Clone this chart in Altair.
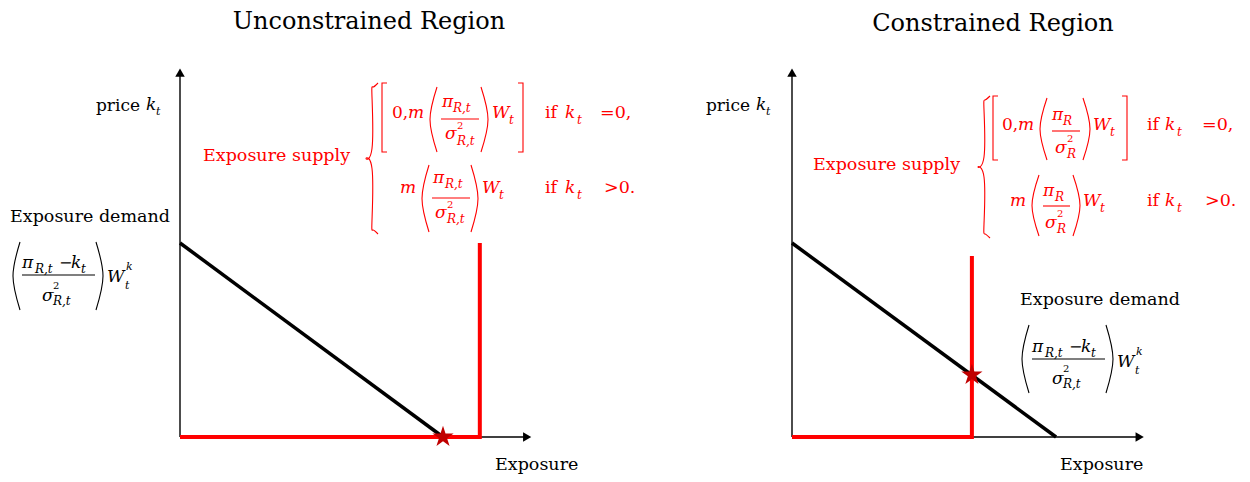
import altair as alt
import pandas as pd

# ---------------- values (economic units) ----------------
panels = ["L", "R"]
titles = ["Unconstrained Region", "Constrained Region"]
demand_x = [[0.0, 10.0], [0.0, 10.04]]        # demand line end points (quantity)
demand_y = [[10.0, 0.0], [10.0, 0.0]]         # demand line end points (price)
supply_x = [[0.0, 11.4, 11.4], [0.0, 6.84, 6.84]]
supply_y = [[0.0, 0.0, 10.0], [0.0, 0.0, 9.33]]
star_x = [10.0, 6.84]
star_y = [0.0, 3.2]
x_axis_end = [13.4, 13.42]
y_axis_end = [19.05, 19.05]

# ---------------- layout (page pixels -> units) ----------------
PXX, PXY = 26.3, 19.4
ORIGIN_PX = {"L": 180, "R": 792}
ORIGIN_PY = 437
PANEL_LEFT = {"L": 8, "R": 648}
PANEL_W = {"L": 640, "R": 594}
PANEL_H = 464
TOP = 8
FONT = "DejaVu Serif"


def ux(p, px):
    return (px - ORIGIN_PX[p]) / PXX


def uy(py):
    return (ORIGIN_PY - py) / PXY


K, RED, STAR = "#000000", "#ff0000", "#c00000"

# ---------------- text pieces ----------------
texts = []


def add(p, px, py, text, size=17.5, style="normal", color=K, align="left"):
    texts.append(dict(panel=p, x=ux(p, px), y=uy(py), text=text, size=size,
                      style=style, color=color, align=align))


MS, SS = 17, 12   # math symbol size, subscript size

# ---- left panel ----
add("L", 369, 22, titles[0], 24, align="center")
add("L", 140, 106, "price", 17, align="right")
add("L", 146, 105, "k", MS, "italic")
add("L", 156, 112, "t", 11, "italic")
add("L", 10, 217, "Exposure demand", 17.5)
add("L", 22, 263, "π", MS, "italic")
add("L", 35, 269, "R,t", SS, "italic")
add("L", 59, 263, "−", 16)
add("L", 71, 263, "k", MS, "italic")
add("L", 81, 269, "t", SS, "italic")
add("L", 42, 296, "σ", MS, "italic")
add("L", 53, 286, "2", 10)
add("L", 53, 301, "R,t", SS, "italic")
add("L", 107, 277, "W", MS, "italic")
add("L", 126, 267, "k", 11, "italic")
add("L", 125, 286, "t", 11, "italic")
add("L", 495, 465, "Exposure", 17.5)
add("L", 203, 156, "Exposure supply", 17.5, color=RED)
# row 1
add("L", 392, 113, "0,", 17, color=RED)
add("L", 408, 113, "m", MS, "italic", RED)
add("L", 442, 102, "π", MS, "italic", RED)
add("L", 453, 108, "R,t", SS, "italic", RED)
add("L", 445, 134, "σ", MS, "italic", RED)
add("L", 457, 126, "2", 10, color=RED)
add("L", 457, 141, "R,t", SS, "italic", RED)
add("L", 492, 113, "W", MS, "italic", RED)
add("L", 509, 120, "t", SS, "italic", RED)
add("L", 545, 113, "if", 17.5, color=RED)
add("L", 565, 113, "k", MS, "italic", RED)
add("L", 577, 120, "t", SS, "italic", RED)
add("L", 600, 113, "=0,", 17.5, color=RED)
# row 2
add("L", 400, 188, "m", MS, "italic", RED)
add("L", 433, 178, "π", MS, "italic", RED)
add("L", 445, 184, "R,t", SS, "italic", RED)
add("L", 435, 213, "σ", MS, "italic", RED)
add("L", 447, 205, "2", 10, color=RED)
add("L", 447, 219, "R,t", SS, "italic", RED)
add("L", 482, 188, "W", MS, "italic", RED)
add("L", 499, 195, "t", SS, "italic", RED)
add("L", 545, 188, "if", 17.5, color=RED)
add("L", 565, 188, "k", MS, "italic", RED)
add("L", 577, 195, "t", SS, "italic", RED)
add("L", 604, 188, ">0.", 17.5, color=RED)

# ---- right panel ----
add("R", 993, 24, titles[1], 24, align="center")
add("R", 750, 106, "price", 17, align="right")
add("R", 756, 105, "k", MS, "italic")
add("R", 766, 112, "t", 11, "italic")
add("R", 813, 165, "Exposure supply", 17.5, color=RED)
# row 1
add("R", 1002, 125, "0,", 17, color=RED)
add("R", 1018, 125, "m", MS, "italic", RED)
add("R", 1052, 115, "π", MS, "italic", RED)
add("R", 1063, 121, "R", SS, "italic", RED)
add("R", 1055, 148, "σ", MS, "italic", RED)
add("R", 1067, 139, "2", 10, color=RED)
add("R", 1067, 154, "R", SS, "italic", RED)
add("R", 1093, 125, "W", MS, "italic", RED)
add("R", 1110, 132, "t", SS, "italic", RED)
add("R", 1147, 125, "if", 17.5, color=RED)
add("R", 1165, 125, "k", MS, "italic", RED)
add("R", 1177, 132, "t", SS, "italic", RED)
add("R", 1202, 125, "=0,", 17.5, color=RED)
# row 2
add("R", 1010, 201, "m", MS, "italic", RED)
add("R", 1043, 191, "π", MS, "italic", RED)
add("R", 1055, 197, "R", SS, "italic", RED)
add("R", 1045, 223, "σ", MS, "italic", RED)
add("R", 1057, 214, "2", 10, color=RED)
add("R", 1057, 229, "R", SS, "italic", RED)
add("R", 1083, 201, "W", MS, "italic", RED)
add("R", 1100, 208, "t", SS, "italic", RED)
add("R", 1147, 201, "if", 17.5, color=RED)
add("R", 1165, 201, "k", MS, "italic", RED)
add("R", 1177, 208, "t", SS, "italic", RED)
add("R", 1205, 201, ">0.", 17.5, color=RED)
# demand label
add("R", 1020, 300, "Exposure demand", 17.5)
add("R", 1032, 347, "π", MS, "italic")
add("R", 1045, 353, "R,t", SS, "italic")
add("R", 1069, 347, "−", 16)
add("R", 1081, 347, "k", MS, "italic")
add("R", 1091, 353, "t", SS, "italic")
add("R", 1052, 379, "σ", MS, "italic")
add("R", 1063, 369, "2", 10)
add("R", 1063, 384, "R,t", SS, "italic")
add("R", 1117, 362, "W", MS, "italic")
add("R", 1136, 352, "k", 11, "italic")
add("R", 1135, 371, "t", 11, "italic")
add("R", 1060, 465, "Exposure", 17.5)

text_df = pd.DataFrame(texts)

# ---------------- lines (curves, axes, fraction bars) ----------------
lines = []


def poly(p, lid, xs, ys, color, width):
    for i, (a, b) in enumerate(zip(xs, ys)):
        lines.append(dict(panel=p, id=lid, seq=i, x=a, y=b, color=color, width=width))


for i, p in enumerate(panels):
    poly(p, "xaxis", [0, x_axis_end[i] - 0.3], [0, 0], K, 1.4)
    poly(p, "yaxis", [0, 0], [0, y_axis_end[i] - 0.4], K, 1.4)
    poly(p, "demand", demand_x[i], demand_y[i], K, 3.5)
    poly(p, "supply", supply_x[i], supply_y[i], RED, 4)

# fraction bars (page px): panel, x from, x to, y, colour
bars = [("L", 22, 95, 275, K), ("L", 441, 479, 119, RED), ("L", 432, 470, 198, RED),
        ("R", 1052, 1080, 131, RED), ("R", 1043, 1070, 206, RED), ("R", 1032, 1105, 359, K)]
for j, (p, a, b, yy, c) in enumerate(bars):
    poly(p, f"bar{j}", [ux(p, a), ux(p, b)], [uy(yy), uy(yy)], c, 1.1)

lines_df = pd.DataFrame(lines)

# delimiters (page px): panel, kind, x, top, bottom, colour
delims = [("L", "(", 13, 242, 310, K), ("L", ")", 103, 242, 310, K),
          ("L", "{", 372, 83, 234, RED), ("L", "[", 382, 83, 152, RED),
          ("L", "(", 430, 87, 152, RED), ("L", ")", 488, 87, 152, RED),
          ("L", "]", 523, 83, 152, RED), ("L", "(", 422, 165, 232, RED),
          ("L", ")", 478, 165, 232, RED),
          ("R", "{", 984, 96, 238, RED), ("R", "[", 993, 96, 160, RED),
          ("R", "(", 1040, 98, 160, RED), ("R", ")", 1090, 98, 160, RED),
          ("R", "]", 1127, 96, 160, RED), ("R", "(", 1032, 175, 236, RED),
          ("R", ")", 1080, 175, 236, RED), ("R", "(", 1022, 325, 393, K),
          ("R", ")", 1113, 325, 393, K)]
curves, rects = [], []
for j, (p, kind, x, t, b, c) in enumerate(delims):
    m = (t + b) / 2
    if kind == "(":
        pts, tgt = [(x + 7, t), (x, m), (x + 7, b)], curves
    elif kind == ")":
        pts, tgt = [(x - 7, t), (x, m), (x - 7, b)], curves
    elif kind == "[":
        pts, tgt = [(x + 5, t), (x, t), (x, b), (x + 5, b)], rects
    elif kind == "]":
        pts, tgt = [(x - 5, t), (x, t), (x, b), (x - 5, b)], rects
    else:
        pts = [(x + 6, t), (x + 1, t + 4), (x, t + 14), (x, m - 10), (x - 6, m),
               (x, m + 10), (x, b - 14), (x + 1, b - 4), (x + 6, b)]
        tgt = curves
    for k, (a, bb) in enumerate(pts):
        tgt.append(dict(panel=p, id=f"d{j}", seq=k, x=ux(p, a), y=uy(bb), color=c))
curves_df = pd.DataFrame(curves)
rects_df = pd.DataFrame(rects)

STAR_PATH = ("M0,-1L0.2245,-0.309L0.951,-0.309L0.363,0.118L0.588,0.809L0,0.382"
             "L-0.588,0.809L-0.363,0.118L-0.951,-0.309L-0.2245,-0.309Z")


def panel_chart(i, p):
    xd = [ux(p, PANEL_LEFT[p]), ux(p, PANEL_LEFT[p] + PANEL_W[p])]
    yd = [uy(TOP + PANEL_H), uy(TOP)]
    X = alt.X("x:Q", scale=alt.Scale(domain=xd, nice=False, zero=False), axis=None)
    Y = alt.Y("y:Q", scale=alt.Scale(domain=yd, nice=False, zero=False), axis=None)
    col = alt.Color("color:N", scale=None)

    ld = lines_df[lines_df.panel == p]
    layer_lines = alt.Chart(ld).mark_line(strokeCap="butt", strokeJoin="miter").encode(
        x=X, y=Y, detail="id:N", order="seq:Q", color=col,
        strokeWidth=alt.StrokeWidth("width:Q", scale=None))
    layer_curves = alt.Chart(curves_df[curves_df.panel == p]).mark_line(
        interpolate="natural", strokeWidth=1.1).encode(
        x=X, y=Y, detail="id:N", order="seq:Q", color=col)
    layer_rects = alt.Chart(rects_df[rects_df.panel == p]).mark_line(
        strokeWidth=1.1).encode(x=X, y=Y, detail="id:N", order="seq:Q", color=col)

    arrows_up = pd.DataFrame({"x": [0.0], "y": [y_axis_end[i] - 0.27]})
    arrows_right = pd.DataFrame({"x": [x_axis_end[i] - 0.2], "y": [0.0]})
    layer_up = alt.Chart(arrows_up).mark_point(shape="triangle-up", filled=True,
                                               color=K, size=90, opacity=1).encode(x=X, y=Y)
    layer_right = alt.Chart(arrows_right).mark_point(shape="triangle-right", filled=True,
                                                     color=K, size=90, opacity=1).encode(x=X, y=Y)
    star = pd.DataFrame({"x": [star_x[i]], "y": [star_y[i]]})
    layer_star = alt.Chart(star).mark_point(shape=STAR_PATH, filled=True, color=STAR,
                                            size=500, opacity=1).encode(x=X, y=Y)

    layers = [layer_lines, layer_curves, layer_rects, layer_up, layer_right, layer_star]
    td = text_df[text_df.panel == p]
    for style in ["normal", "italic"]:
        for align in ["left", "center", "right"]:
            sub = td[(td["style"] == style) & (td["align"] == align)]
            if len(sub) == 0:
                continue
            layers.append(alt.Chart(sub).mark_text(
                font=FONT, fontStyle=style, align=align,
                baseline="middle").encode(
                x=X, y=Y, text="text:N",
                size=alt.Size("size:Q", scale=None), color=col))
    return alt.layer(*layers).properties(width=PANEL_W[p], height=PANEL_H)


chart = alt.hconcat(*[panel_chart(i, p) for i, p in enumerate(panels)], spacing=0).properties(
    padding=0).configure_view(stroke=None)

chart.save("out.html", embed_options={"renderer": "svg", "actions": False})
